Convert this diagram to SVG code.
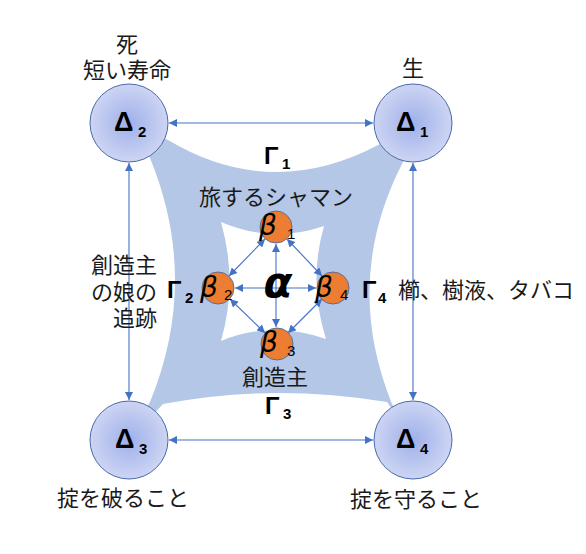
<svg xmlns="http://www.w3.org/2000/svg" width="586" height="554" viewBox="0 0 586 554">
<defs>
<radialGradient id="dg" cx="50%" cy="50%" r="50%">
<stop offset="0" stop-color="#9fb0ea"/>
<stop offset="1" stop-color="#cdd5f3"/>
</radialGradient>
<marker id="ah" viewBox="0 0 10 10" refX="10" refY="5" markerWidth="9" markerHeight="8" markerUnits="userSpaceOnUse" orient="auto-start-reverse">
<path d="M0,0 L10,5 L0,10 z" fill="#4472c4"/>
</marker>
<style>
.ln{stroke:#4472c4;stroke-width:1.1;fill:none;marker-start:url(#ah);marker-end:url(#ah)}
.d{fill:url(#dg);stroke:#4a69a8;stroke-width:1}
.b{fill:#ed7d31;stroke:#5a6f93;stroke-width:1}
.jp{font-family:"Noto Sans CJK JP","Noto Sans",sans-serif;font-size:22px;fill:#1a1a1a}
.g{font-family:"Liberation Sans","DejaVu Sans",sans-serif;font-weight:bold;font-size:24px;fill:#000}
.dl{font-family:"Liberation Sans","DejaVu Sans",sans-serif;font-weight:bold;font-size:27px;fill:#000}
.s{font-family:"Liberation Sans","DejaVu Sans",sans-serif;font-size:15px;fill:#000}
.sb{font-family:"Liberation Sans","DejaVu Sans",sans-serif;font-size:15px;font-weight:bold;fill:#000}
.bt{font-family:"DejaVu Sans","Liberation Sans",sans-serif;font-style:italic;font-size:28px;fill:#000}
</style>
</defs>
<rect width="586" height="554" fill="#fff"/>
<g id="band">
<path d="M168,140 Q272,202 380,144 L413,123 L403,162 Q342,280 392,404 L413,440 L387,402 Q272,383 163,404 L129,440 L150,402 Q200,280 150,158 L129,123 Z" fill="#b4c7e7"/>
<path d="M221,222 Q272,244 324,226 Q308,282 326,339 Q272,320 221,341 Q238,282 221,222 Z" fill="#fff"/>
</g>
<g id="connectors">
<line class="ln" x1="169" y1="123" x2="373" y2="123"/>
<line class="ln" x1="169" y1="440" x2="373" y2="440"/>
<line class="ln" x1="129" y1="163" x2="129" y2="400"/>
<line class="ln" x1="413" y1="163" x2="413" y2="400"/>
<line class="ln" x1="276" y1="244" x2="276" y2="327"/>
<line class="ln" x1="235" y1="288" x2="316" y2="288"/>
<line class="ln" x1="265" y1="239" x2="229" y2="276"/>
<line class="ln" x1="287" y1="239" x2="322" y2="276"/>
<line class="ln" x1="230" y1="299" x2="265" y2="333"/>
<line class="ln" x1="322" y1="299" x2="288" y2="333"/>
</g>
<g id="delta1"><circle class="d" cx="413" cy="123" r="39"/><text class="dl" x="396" y="131">Δ</text><text class="sb" x="420" y="137">1</text></g>
<g id="delta2"><circle class="d" cx="129" cy="123" r="39"/><text class="dl" x="114" y="131">Δ</text><text class="sb" x="138" y="137">2</text></g>
<g id="delta3"><circle class="d" cx="129" cy="440" r="39"/><text class="dl" x="115" y="448">Δ</text><text class="sb" x="139" y="454">3</text></g>
<g id="delta4"><circle class="d" cx="413" cy="440" r="39"/><text class="dl" x="396" y="448">Δ</text><text class="sb" x="420" y="454">4</text></g>
<g id="beta1"><circle class="b" cx="276" cy="227" r="16"/><text class="bt" x="259" y="235">β</text><text class="s" x="287" y="239">1</text></g>
<g id="beta2"><circle class="b" cx="218" cy="288" r="16"/><text class="bt" x="200" y="297">β</text><text class="s" x="224" y="300">2</text></g>
<g id="beta3"><circle class="b" cx="277" cy="344" r="16"/><text class="bt" x="260" y="352">β</text><text class="s" x="287" y="356">3</text></g>
<g id="beta4"><circle class="b" cx="333" cy="288" r="16"/><text class="bt" x="315" y="297">β</text><text class="s" x="340" y="300">4</text></g>
<g id="alpha"><text x="278" y="297" text-anchor="middle" font-family="DejaVu Sans, sans-serif" font-style="italic" font-weight="bold" font-size="42" fill="#000">α</text></g>
<g id="labels">
<text class="g" x="264" y="164">Γ</text><text class="sb" x="282" y="169">1</text>
<text class="g" x="167" y="298">Γ</text><text class="sb" x="185" y="303">2</text>
<text class="g" x="265" y="414">Γ</text><text class="sb" x="283" y="419">3</text>
<text class="g" x="362" y="298">Γ</text><text class="sb" x="378" y="303">4</text>
<text class="jp" x="127" y="52" text-anchor="middle">死</text>
<text class="jp" x="127" y="78" text-anchor="middle">短い寿命</text>
<text class="jp" x="413" y="76" text-anchor="middle">生</text>
<text class="jp" x="276" y="205" text-anchor="middle">旅するシャマン</text>
<text class="jp" x="275" y="385" text-anchor="middle">創造主</text>
<text class="jp" x="157" y="273" text-anchor="end">創造主</text>
<text class="jp" x="157" y="300" text-anchor="end">の娘の</text>
<text class="jp" x="157" y="326" text-anchor="end">追跡</text>
<text class="jp" x="398" y="298">櫛、樹液、タバコ</text>
<text class="jp" x="123" y="506" text-anchor="middle">掟を破ること</text>
<text class="jp" x="416" y="507" text-anchor="middle">掟を守ること</text>
</g>
</svg>
